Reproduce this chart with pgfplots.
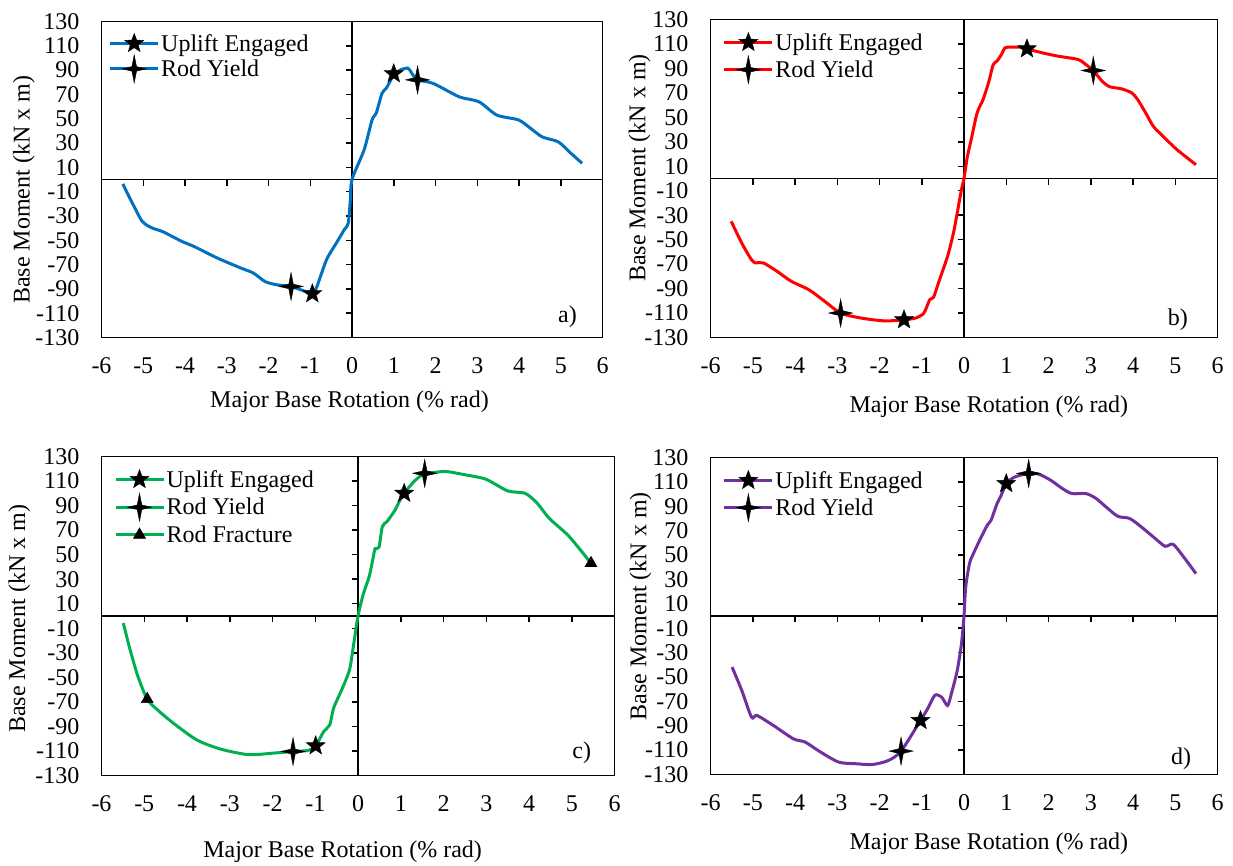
\documentclass[border=0pt]{standalone}
\usepackage{fontspec}
\setmainfont{Liberation Serif}
\usepackage{pgfplots}
\pgfplotsset{compat=1.18}
\definecolor{cA}{HTML}{0070C0}
\definecolor{cB}{HTML}{FF0000}
\definecolor{cC}{HTML}{00B050}
\definecolor{cD}{HTML}{7030A0}

\pgfdeclareplotmark{ustar}{%
  \pgfpathmoveto{\pgfpointpolar{90}{10pt}}%
  \pgfpathlineto{\pgfpointpolar{126}{4.2pt}}%
  \pgfpathlineto{\pgfpointpolar{162}{10pt}}%
  \pgfpathlineto{\pgfpointpolar{198}{4.2pt}}%
  \pgfpathlineto{\pgfpointpolar{234}{10pt}}%
  \pgfpathlineto{\pgfpointpolar{270}{4.2pt}}%
  \pgfpathlineto{\pgfpointpolar{306}{10pt}}%
  \pgfpathlineto{\pgfpointpolar{342}{4.2pt}}%
  \pgfpathlineto{\pgfpointpolar{18}{10pt}}%
  \pgfpathlineto{\pgfpointpolar{54}{4.2pt}}%
  \pgfpathclose
  \pgfusepathqfillstroke}
\pgfdeclareplotmark{ystar}{%
  \pgfpathmoveto{\pgfqpoint{0pt}{14pt}}%
  \pgfpathlineto{\pgfqpoint{2.3pt}{2.3pt}}%
  \pgfpathlineto{\pgfqpoint{12pt}{0pt}}%
  \pgfpathlineto{\pgfqpoint{2.3pt}{-2.3pt}}%
  \pgfpathlineto{\pgfqpoint{0pt}{-14pt}}%
  \pgfpathlineto{\pgfqpoint{-2.3pt}{-2.3pt}}%
  \pgfpathlineto{\pgfqpoint{-12pt}{0pt}}%
  \pgfpathlineto{\pgfqpoint{-2.3pt}{2.3pt}}%
  \pgfpathclose
  \pgfusepathqfillstroke}

\newcommand{\LegImg}[2]{\draw[#1,line width=3pt] (0pt,0pt) -- (48pt,0pt); \draw[black,fill=black,line width=0.4pt] plot[only marks,mark=#2,mark size=7pt] coordinates {(24pt,0pt)};}

% center cross of each panel, drawn by a second axis with middle axis lines
\pgfplotsset{
  every axis/.append style={font=\fontsize{24}{28}\selectfont},
  crossax/.style={scale only axis, axis lines=middle,
    axis line style={-, line width=1.3pt, black},
    xmin=-6, xmax=6, ymin=-130, ymax=130,
    xtick={-5,-4,-3,-2,-1,1,2,3,4,5},
    ytick={-110,-90,-70,-50,-30,-10,10,30,50,70,90,110},
    xticklabels={}, yticklabels={},
    tick align=outside, major tick length=6pt,
    every tick/.style={black, line width=1.5pt},
    tickwidth=6pt},
  mainax/.style={scale only axis, clip=false,
    xmin=-6, xmax=6, ymin=-130, ymax=130,
    xtick={-6,-5,...,6}, ytick={-130,-110,...,130},
    xticklabels={-6,-5,-4,-3,-2,-1,0,1,2,3,4,5,6},
    yticklabels={-130,-110,-90,-70,-50,-30,-10,10,30,50,70,90,110,130},
    major tick length=0pt,
    axis line style={line width=1.3pt},
    xticklabel style={inner sep=0pt, anchor=north, yshift=-20pt},
    yticklabel style={inner sep=0pt, anchor=east, xshift=-22pt},
    /pgf/number format/assume math mode=true,
    legend style={anchor=north west, draw=none, fill=none,
      inner sep=0pt, nodes={inner sep=1.5pt}},
    legend cell align=left,
    xlabel={Major Base Rotation (\% rad)},
    ylabel={Base Moment (kN x m)},
  },
  curve/.style={line width=3pt, smooth, tension=0.45, no marks, forget plot},
  mk/.style={only marks, mark options={draw=black, fill=black, line width=0.4pt}},
}

\begin{document}
\begin{tikzpicture}
\path[use as bounding box] (0pt,0pt) rectangle (1233pt,-865pt);

% ---------------- a) ----------------
\begin{axis}[crossax, at={(101.5pt,-337.5pt)}, anchor=south west, width=501pt, height=316pt]
\addplot[draw=none, forget plot] coordinates {(0,0)};
\end{axis}
\begin{axis}[mainax, at={(101.5pt,-337.5pt)}, anchor=south west, width=501pt, height=316pt,
  legend style={at={(0.014,0.965)}, row sep=0.7pt},
  xlabel style={at={(axis description cs:0.495,-0.2035)}, anchor=center},
  ylabel style={at={(axis description cs:-0.155,0.467)}, anchor=center}]
\addplot[curve, cA] coordinates {
(-5.49,-3.6) (-5.26,-19.5) (-5.02,-34.6) (-4.78,-40) (-4.54,-42.8) (-4.07,-51)
(-3.79,-55) (-3.22,-64.7) (-2.65,-73) (-2.36,-77) (-2.08,-84) (-1.79,-86.7)
(-1.46,-88) (-1.13,-92) (-0.95,-94.5) (-0.84,-88) (-0.61,-66) (-0.37,-52)
(-0.18,-41) (-0.09,-36) (-0.04,-17) (0,0) (0.29,24.4) (0.48,49) (0.58,54.6)
(0.72,71) (0.82,75) (1.0,86) (1.15,90) (1.34,91.6) (1.43,87.5) (1.57,82)
(1.95,79) (2.57,68) (3.04,64) (3.47,53) (3.99,49) (4.28,42) (4.56,35)
(4.94,31) (5.23,22) (5.51,13.4)};
\addplot[mk, mark=ustar, legend image code/.code={\LegImg{cA}{ustar}}] coordinates {(1.0,87) (-0.95,-94)};
\addlegendentry{Uplift Engaged}
\addplot[mk, mark=ystar, legend image code/.code={\LegImg{cA}{ystar}}] coordinates {(1.57,82) (-1.46,-88)};
\addlegendentry{Rod Yield}
\node at (rel axis cs:0.93,0.066) {a)};
\end{axis}

% ---------------- b) ----------------
\begin{axis}[crossax, at={(710.5pt,-337.5pt)}, anchor=south west, width=507pt, height=318pt]
\addplot[draw=none, forget plot] coordinates {(0,0)};
\end{axis}
\begin{axis}[mainax, at={(710.5pt,-337.5pt)}, anchor=south west, width=507pt, height=318pt,
  legend style={at={(0.024,0.962)}, row sep=2.5pt},
  xlabel style={at={(axis description cs:0.549,-0.217)}, anchor=center},
  ylabel style={at={(axis description cs:-0.140,0.533)}, anchor=center}]
\addplot[curve, cB] coordinates {
(-5.51,-35) (-5.26,-52.8) (-5.03,-66.4) (-4.93,-69) (-4.75,-69) (-4.42,-76)
(-4.09,-84) (-3.67,-91) (-3.29,-100.6) (-2.92,-110) (-2.45,-114) (-1.89,-116.4)
(-1.42,-115.5) (-1.14,-114) (-0.95,-110) (-0.81,-99) (-0.72,-97) (-0.58,-82.8)
(-0.39,-63.7) (-0.25,-44.6) (-0.16,-28) (-0.06,-9) (0,0) (0.08,18) (0.17,31.8)
(0.31,53.6) (0.45,64.5) (0.59,79.5) (0.69,93) (0.78,96) (0.88,101) (0.97,106.8)
(1.11,107.4) (1.39,107.4) (1.49,106) (1.86,102.7) (2.23,100) (2.70,97.3)
(2.89,93) (3.06,88.3) (3.27,79.5) (3.45,75) (3.73,73.3) (3.97,70) (4.11,64.5)
(4.30,53.6) (4.48,42.7) (4.67,35.9) (5.04,23.6) (5.49,11.3)};
\addplot[mk, mark=ustar, legend image code/.code={\LegImg{cB}{ustar}}] coordinates {(1.49,106) (-1.42,-115.5)};
\addlegendentry{Uplift Engaged}
\addplot[mk, mark=ystar, legend image code/.code={\LegImg{cB}{ystar}}] coordinates {(3.06,88.3) (-2.92,-110)};
\addlegendentry{Rod Yield}
\node at (rel axis cs:0.922,0.056) {b)};
\end{axis}

% ---------------- c) ----------------
\begin{axis}[crossax, at={(101.5pt,-775.5pt)}, anchor=south west, width=513pt, height=319pt]
\addplot[draw=none, forget plot] coordinates {(0,0)};
\end{axis}
\begin{axis}[mainax, at={(101.5pt,-775.5pt)}, anchor=south west, width=513pt, height=319pt,
  legend style={at={(0.024,0.962)}, row sep=3pt},
  xlabel style={at={(axis description cs:0.470,-0.238)}, anchor=center},
  ylabel style={at={(axis description cs:-0.160,0.491)}, anchor=center}]
\addplot[curve, cC] coordinates {
(-5.49,-5.8) (-5.33,-27.6) (-5.15,-49) (-4.93,-67.8) (-4.69,-76.5) (-4.32,-87.3)
(-3.77,-101) (-3.21,-108.5) (-2.56,-113) (-2.00,-111.8) (-1.52,-110.4)
(-1.17,-109.6) (-0.99,-105.8) (-0.80,-94) (-0.66,-88.7) (-0.57,-75) (-0.38,-60)
(-0.20,-44) (-0.11,-25) (0,0) (0.13,18.6) (0.26,32) (0.36,48.5) (0.40,55)
(0.49,56) (0.57,73) (0.68,77) (0.87,86.5) (0.96,93) (1.08,100) (1.32,110)
(1.56,116.3) (1.79,117) (2.06,117.8) (2.52,115) (2.99,111.5) (3.50,102)
(3.91,100) (4.19,92) (4.47,79.7) (4.94,64.8) (5.45,43)};
\addplot[mk, mark=ustar, legend image code/.code={\LegImg{cC}{ustar}}] coordinates {(1.08,100) (-0.99,-105.8)};
\addlegendentry{Uplift Engaged}
\addplot[mk, mark=ystar, legend image code/.code={\LegImg{cC}{ystar}}] coordinates {(1.56,116.3) (-1.52,-110.4)};
\addlegendentry{Rod Yield}
\addplot[mk, mark=triangle*, mark size=7pt, legend image code/.code={\LegImg{cC}{triangle*}}] coordinates {(5.45,43) (-4.93,-67.8)};
\addlegendentry{Rod Fracture}
\node at (rel axis cs:0.936,0.071) {c)};
\end{axis}

% ---------------- d) ----------------
\begin{axis}[crossax, at={(710.5pt,-774.5pt)}, anchor=south west, width=507pt, height=317pt]
\addplot[draw=none, forget plot] coordinates {(0,0)};
\end{axis}
\begin{axis}[mainax, at={(710.5pt,-774.5pt)}, anchor=south west, width=507pt, height=317pt,
  legend style={at={(0.024,0.962)}, row sep=2.5pt},
  xlabel style={at={(axis description cs:0.549,-0.219)}, anchor=center},
  ylabel style={at={(axis description cs:-0.138,0.531)}, anchor=center}]
\addplot[curve, cD] coordinates {
(-5.49,-41.9) (-5.26,-61) (-5.03,-82.9) (-4.90,-81.6) (-4.51,-89.8) (-4.04,-100.7)
(-3.76,-103.4) (-3.39,-111.7) (-2.96,-119.9) (-2.54,-121.2) (-2.17,-121.8)
(-1.79,-118.5) (-1.49,-110.8) (-1.03,-85.7) (-0.86,-76) (-0.69,-65) (-0.53,-66.5)
(-0.39,-73.4) (-0.30,-63.8) (-0.16,-44.6) (-0.06,-22.7) (0,0) (0.04,23.8)
(0.13,43) (0.22,51) (0.41,65) (0.55,74.4) (0.64,78.5) (0.78,92) (0.88,99)
(1.00,108.6) (1.20,114) (1.53,116.9) (1.77,116.3) (2.05,111.4) (2.33,104.5)
(2.56,100.4) (2.89,100.4) (3.13,96.3) (3.36,89.5) (3.64,81.8) (3.92,80)
(4.20,73) (4.48,64.9) (4.76,57.2) (4.95,58.8) (5.23,47) (5.49,34.8)};
\addplot[mk, mark=ustar, legend image code/.code={\LegImg{cD}{ustar}}] coordinates {(1.0,108.6) (-1.03,-85.7)};
\addlegendentry{Uplift Engaged}
\addplot[mk, mark=ystar, legend image code/.code={\LegImg{cD}{ystar}}] coordinates {(1.53,116.9) (-1.49,-110.8)};
\addlegendentry{Rod Yield}
\node at (rel axis cs:0.928,0.05) {d)};
\end{axis}
\end{tikzpicture}
\end{document}
